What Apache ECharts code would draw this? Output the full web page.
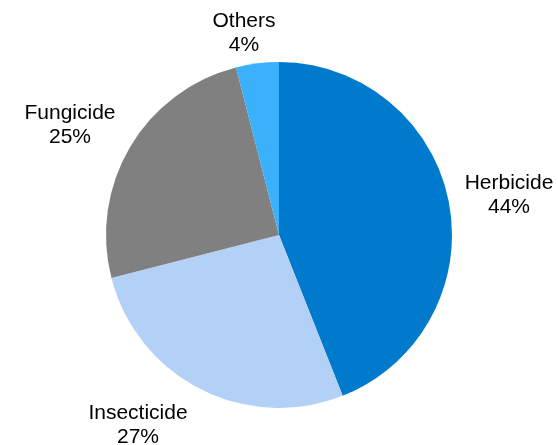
<!DOCTYPE html>
<html>
<head>
<meta charset="utf-8">
<script src="https://cdn.jsdelivr.net/npm/echarts@6/dist/echarts.min.js"></script>
<style>
  html, body { margin: 0; padding: 0; background: #ffffff; }
  #chart { width: 558px; height: 445px; }
</style>
</head>
<body>
<div id="chart"></div>
<script>
// Share of crop protection sales by product type
const categories = ['Herbicide', 'Insecticide', 'Fungicide', 'Others'];
const shares = [44, 27, 25, 4];
const colors = ['#007ACD', '#B3D1F6', '#808080', '#3BB0FB'];

// Centre point of each two-line label block, in pixels (label layout only)
const labelAnchors = [[509, 195], [138, 425], [70, 125], [244, 33]];

const chart = echarts.init(document.getElementById('chart'), null, { renderer: 'canvas' });

chart.setOption({
  animation: false,
  backgroundColor: '#ffffff',
  series: [{
    type: 'pie',
    center: [279, 235],
    radius: 173,
    startAngle: 90,
    clockwise: true,
    data: categories.map((name, i) => ({
      name: name,
      value: shares[i],
      itemStyle: { color: colors[i] }
    })),
    label: {
      show: true,
      position: 'outside',
      alignTo: 'none',
      overflow: 'none',
      formatter: p => p.name + '\n' + p.value + '%',
      fontFamily: 'Liberation Sans, Arial, sans-serif',
      fontSize: 21,
      lineHeight: 24,
      color: '#000000',
      align: 'center'
    },
    labelLine: { show: false, length: 8, length2: 0 },
    labelLayout: p => ({
      x: labelAnchors[p.dataIndex][0],
      y: labelAnchors[p.dataIndex][1],
      align: 'center',
      verticalAlign: 'middle',
      width: 120
    }),
    emphasis: { disabled: true }
  }]
});
</script>
</body>
</html>
